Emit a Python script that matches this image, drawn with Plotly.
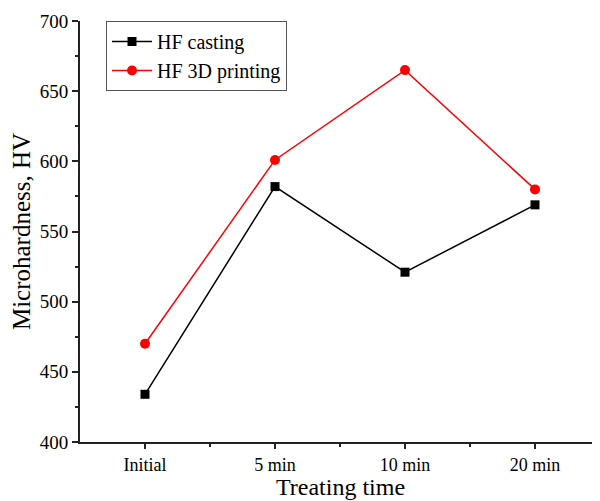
import plotly.graph_objects as go

categories = ["Initial", "5 min", "10 min", "20 min"]
hf_casting = [434, 582, 521, 569]
hf_3d_printing = [470, 601, 665, 580]

x = list(range(len(categories)))
font = "Liberation Serif, Times New Roman, serif"

fig = go.Figure()
fig.add_trace(go.Scatter(x=x, y=hf_casting, mode="lines+markers", name="HF casting",
                         line=dict(color="black", width=1.5),
                         marker=dict(symbol="square", size=9, color="black")))
fig.add_trace(go.Scatter(x=x, y=hf_3d_printing, mode="lines+markers", name="HF 3D printing",
                         line=dict(color="#ff0000", width=1.5),
                         marker=dict(symbol="circle", size=10, color="#ff0000")))

fig.update_layout(
    width=600, height=501,
    margin=dict(l=72, r=8, t=13, b=67),
    plot_bgcolor="white", paper_bgcolor="white",
    font=dict(family=font, color="black", size=19),
    showlegend=True,
    legend=dict(x=0.05, y=1.0, xanchor="left", yanchor="top",
                bgcolor="white", bordercolor="#555", borderwidth=1,
                font=dict(size=20, family=font), tracegroupgap=0, itemwidth=40),
    xaxis=dict(range=[-0.5, 3.5], tickvals=x, ticktext=categories,
               showgrid=False, zeroline=False, showline=True, linecolor="#222", linewidth=2,
               ticks="outside", ticklen=5, tickwidth=1.5, tickcolor="#222",
               minor=dict(tickvals=[0.5, 1.5, 2.5], ticks="outside", ticklen=3, tickwidth=1.5, tickcolor="#222"),
               tickfont=dict(size=18), automargin=False),
    yaxis=dict(range=[400, 700], tickvals=[400, 450, 500, 550, 600, 650, 700],
               showgrid=False, zeroline=False, showline=True, linecolor="#222", linewidth=2,
               ticks="outside", ticklen=6, tickwidth=1.5, tickcolor="#222",
               minor=dict(tickvals=[425, 475, 525, 575, 625, 675], ticks="outside", ticklen=3, tickwidth=1.5, tickcolor="#222"),
               title=dict(text="Microhardness, HV", font=dict(size=25), standoff=4),
               tickfont=dict(size=19), automargin=False),
    annotations=[dict(text="Treating time", xref="paper", yref="paper", x=0.5, y=-0.142,
                      xanchor="center", yanchor="bottom", showarrow=False,
                      font=dict(size=24, family=font, color="black"))],
)

fig.write_html("out.html")
